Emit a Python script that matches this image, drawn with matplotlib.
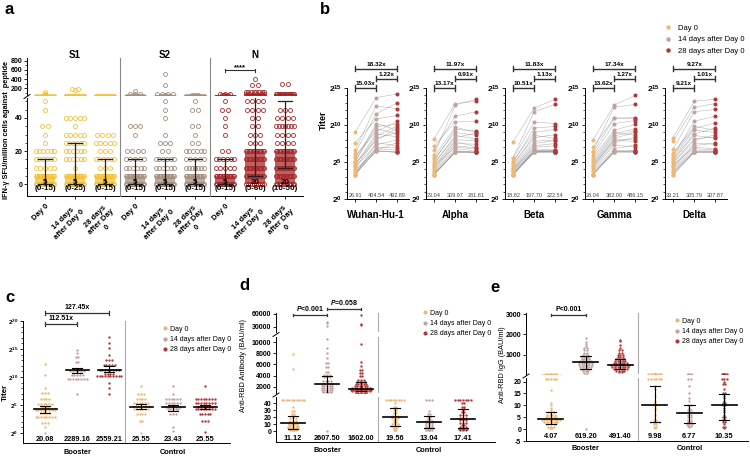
import numpy as np
import matplotlib
matplotlib.use('Agg')
import matplotlib.pyplot as plt
import matplotlib.transforms as mtransforms
from matplotlib.lines import Line2D

plt.rcParams['font.family'] = ['Liberation Sans', 'DejaVu Sans']
plt.rcParams['mathtext.fontset'] = 'custom'
plt.rcParams['mathtext.rm'] = 'Liberation Sans'
plt.rcParams['mathtext.it'] = 'Liberation Sans:italic:bold'
plt.rcParams['mathtext.bf'] = 'Liberation Sans:bold'
plt.rcParams['axes.linewidth'] = 0.7

# ---------------- data ----------------
time_labels = ['Day 0', '14 days after Day 0', '28 days after Day 0']

# panel a: IFN-g SFU, (value, count) rows per group
a_s1 = [
    [(120, 1), (75, 1), (50, 1), (45, 1), (35, 2), (30, 1), (25, 1), (20, 6), (15, 6), (10, 5), (5, 14), (0, 14)],
    [(190, 2), (160, 1), (40, 5), (35, 1), (30, 5), (25, 6), (20, 6), (15, 6), (10, 1), (5, 14), (0, 14)],
    [(30, 4), (25, 5), (20, 3), (15, 6), (10, 3), (5, 14), (0, 14)],
]
a_s2 = [
    [(150, 1), (65, 3), (35, 3), (30, 1), (20, 4), (15, 5), (10, 6), (5, 14), (0, 14)],
    [(500, 1), (260, 1), (65, 4), (50, 1), (45, 1), (40, 1), (30, 1), (25, 3), (20, 2), (15, 6), (10, 6), (5, 14), (0, 14)],
    [(50, 1), (45, 2), (35, 2), (30, 1), (25, 2), (20, 6), (15, 5), (10, 7), (5, 14), (0, 14)],
]
a_n = [
    [(70, 3), (50, 1), (45, 2), (40, 1), (35, 1), (30, 1), (20, 2), (15, 6), (10, 5), (5, 14), (0, 14)],
    [(400, 1), (260, 2), (120, 8), (65, 6), (50, 4), (45, 4), (40, 2), (35, 2), (30, 3), (25, 3), (20, 14), (15, 14),
     (10, 14), (5, 14), (0, 10)],
    [(300, 2), (70, 14), (45, 3), (40, 4), (35, 7), (30, 4), (25, 4), (20, 14), (15, 14), (10, 14), (5, 14), (0, 14)],
]
a_medians = [5, 5, 5, 5, 5, 5, 5, 20, 20]
a_q1 = [0, 0, 0, 0, 0, 0, 0, 5, 10]
a_q3 = [15, 25, 15, 15, 15, 15, 15, 60, 50]
a_med_labels = ['5\n(0-15)', '5\n(0-25)', '5\n(0-15)', '5\n(0-15)', '5\n(0-15)', '5\n(0-15)',
                '5\n(0-15)', '20\n(5-60)', '20\n(10-50)']
a_ticklabels = ['Day 0', '14 days\nafter Day 0', '28 days\nafter Day\n0'] * 3
a_peptides = ['S1', 'S2', 'N']

# panel b: log2 titers per subject (Day 0, 14 d, 28 d)
b_names = ['Wuhan-Hu-1', 'Alpha', 'Beta', 'Gamma', 'Delta']
b_d0 = [
    [3.3, 4.1, 3.3, 5.5, 3.9, 4.6, 6.2, 3.3, 4.8, 5.0, 3.5, 9.0, 4.3, 5.8, 3.7, 6.6, 4.5, 3.3, 7.6, 5.2],
    [3.3, 3.8, 4.4, 3.3, 5.1, 4.0, 6.0, 3.5, 4.7, 8.1, 3.3, 5.4, 4.2, 3.6, 6.6, 4.9, 3.3, 5.7, 4.5, 7.2],
    [3.3, 3.6, 4.0, 3.3, 4.4, 5.2, 3.8, 4.7, 3.3, 7.7, 4.1, 3.5, 5.5, 4.2, 3.3, 4.9, 3.9, 5.6, 3.4, 4.6],
    [3.3, 4.2, 5.0, 3.6, 6.3, 4.5, 3.3, 5.6, 8.0, 4.0, 3.8, 6.5, 4.8, 3.4, 5.3, 7.0, 4.4, 3.3, 5.9, 4.6],
    [3.5, 4.3, 5.2, 3.3, 6.7, 4.8, 5.6, 3.9, 8.3, 4.6, 5.0, 6.2, 3.3, 5.4, 7.8, 4.1, 6.0, 3.7, 5.8, 4.4],
]
b_d14 = [
    [6.5, 8.2, 7.0, 9.8, 6.6, 8.8, 11.5, 6.5, 7.9, 10.2, 6.5, 13.7, 7.3, 9.1, 6.8, 12.6, 8.5, 7.6, 10.8, 9.5],
    [6.4, 7.2, 8.0, 6.3, 9.4, 7.5, 12.7, 6.5, 8.6, 12.9, 6.3, 9.0, 7.8, 6.8, 11.2, 8.3, 6.4, 9.7, 7.0, 10.4],
    [6.4, 6.5, 7.2, 6.3, 7.8, 9.0, 6.6, 8.3, 6.4, 12.3, 7.0, 6.5, 10.4, 7.5, 6.3, 9.6, 6.8, 11.8, 6.4, 8.6],
    [6.4, 7.6, 8.8, 6.5, 10.9, 8.0, 6.3, 9.3, 12.7, 7.3, 6.8, 12.4, 8.5, 6.4, 9.0, 11.0, 7.9, 6.5, 10.2, 8.2],
    [6.4, 7.2, 8.6, 6.3, 11.8, 7.9, 9.3, 6.5, 13.2, 7.0, 8.1, 9.8, 6.3, 8.8, 12.4, 6.8, 9.5, 6.4, 10.5, 7.5],
]
b_d28 = [
    [6.3, 9.0, 6.9, 10.1, 7.6, 8.4, 13.0, 6.3, 9.6, 9.3, 6.4, 14.2, 8.0, 10.5, 6.6, 12.2, 9.9, 7.2, 11.3, 8.8],
    [6.3, 6.9, 7.9, 6.3, 9.2, 7.4, 13.5, 6.3, 8.1, 13.2, 6.3, 8.6, 7.0, 6.5, 11.8, 8.9, 6.4, 9.0, 6.8, 10.5],
    [6.4, 6.6, 7.5, 6.3, 8.0, 9.4, 6.5, 8.7, 6.4, 13.5, 7.2, 6.3, 10.2, 7.9, 6.4, 9.8, 6.6, 12.8, 6.5, 8.2],
    [6.3, 8.4, 9.5, 6.6, 11.0, 8.1, 6.4, 10.1, 14.0, 7.0, 7.3, 12.8, 9.2, 6.5, 8.6, 10.8, 7.8, 6.4, 10.6, 9.0],
    [6.4, 7.6, 8.2, 6.3, 12.1, 8.7, 9.0, 6.5, 13.5, 6.8, 8.4, 9.3, 6.3, 9.6, 12.9, 6.6, 10.3, 6.4, 11.2, 7.4],
]
b_gm = [['26.91', '404.54', '492.89'], ['23.04', '309.97', '281.81'], ['18.82', '197.70', '222.54'],
        ['28.04', '382.00', '486.15'], ['33.21', '305.79', '307.87']]
b_folds = [('15.03x', '1.22x', '18.32x'), ('13.17x', '0.91x', '11.97x'), ('10.51x', '1.13x', '11.83x'),
           ('13.62x', '1.27x', '17.34x'), ('9.21x', '1.01x', '9.27x')]

# panel c: log2 titers, (value, count)
c_groups = [
    [(12.4, 1), (10.4, 1), (8.0, 1), (7.1, 3), (6.0, 4), (5.1, 6), (4.6, 3), (4.1, 8), (3.6, 4), (2.9, 8), (1.8, 3), (1.1, 1), (0.0, 1)],
    [(14.8, 1), (14.2, 1), (13.6, 2), (12.6, 2), (11.5, 4), (11.0, 6), (10.4, 5), (9.6, 8), (7.0, 1)],
    [(17.2, 1), (16.0, 1), (15.1, 1), (13.9, 1), (13.0, 3), (12.1, 5), (11.3, 8), (10.6, 4), (10.1, 10), (9.0, 1), (8.0, 1), (7.0, 1)],
    [(8.4, 1), (7.0, 3), (6.0, 4), (5.3, 6), (4.8, 7), (4.2, 6), (3.4, 4), (2.2, 2), (0.0, 1)],
    [(8.4, 1), (7.0, 1), (6.0, 6), (5.3, 6), (4.6, 6), (4.2, 5), (3.4, 3), (1.1, 1), (0.4, 1)],
    [(8.4, 1), (6.0, 8), (5.3, 8), (4.7, 6), (4.2, 8), (3.4, 5), (2.2, 3), (0.1, 1)],
]
c_gm = [4.33, 11.16, 11.32, 4.68, 4.55, 4.68]
c_lo = [3.6, 10.7, 10.8, 4.3, 4.0, 4.3]
c_hi = [4.9, 11.6, 11.9, 5.1, 5.0, 5.0]
c_gm_labels = ['20.08', '2289.16', '2559.21', '25.55', '23.43', '25.55']

# panel d: anti-RBD antibody BAU/ml, (value, count)
d_groups = [
    [(7800, 1), (5200, 1), (45, 10), (35, 1), (28, 2), (24, 2), (21, 2), (18, 3), (15, 3), (12, 4), (10, 4), (8, 4),
     (6, 5), (4, 5), (3, 4), (2, 3), (1, 2)],
    [(42000, 1), (40000, 1), (31000, 1), (10500, 1), (9000, 1), (8000, 1), (7200, 1), (6300, 2), (5600, 2), (4700, 2),
     (4200, 3), (3700, 3), (3000, 4), (2600, 5), (2200, 5), (1800, 5), (1400, 5), (1100, 4), (0, 1)],
    [(58000, 1), (36000, 1), (34000, 1), (9700, 1), (6400, 1), (5800, 1), (5000, 2), (4400, 2), (3900, 2), (3300, 3),
     (2900, 4), (2500, 5), (2100, 6), (1800, 8), (1500, 9), (1200, 8), (950, 5)],
    [(45, 8), (40, 1), (35, 2), (30, 2), (26, 2), (22, 3), (19, 3), (16, 2), (13, 2), (10, 3), (7, 3), (4, 2), (2, 2), (1, 1)],
    [(45, 3), (28, 1), (25, 2), (20, 2), (17, 2), (14, 3), (12, 3), (9, 3), (6, 3), (4, 4), (2, 3), (1, 2)],
    [(45, 7), (40, 2), (35, 2), (31, 2), (27, 2), (23, 3), (19, 3), (16, 3), (12, 3), (9, 2), (6, 3), (3, 4), (1, 3)],
]
d_med = [11.12, 2607.5, 1602.0, 19.56, 13.04, 17.41]
d_lo = [3, 1000, 1200, 7, 5, 4]
d_hi = [22, 4000, 2900, 33, 21, 31]
d_med_labels = ['11.12', '2607.50', '1602.00', '19.56', '13.04', '17.41']

# panel e: anti-RBD IgG BAU/ml, (value, count)
e_groups = [
    [(21, 5), (16.5, 1), (11, 1), (10, 1), (9, 1), (8, 1), (7, 3), (6, 4), (5, 5), (4, 8), (3, 6), (2, 5), (1, 3), (0.5, 2)],
    [(1800, 1), (1600, 1), (1500, 1), (1400, 1), (1300, 2), (1200, 2), (1100, 2), (1000, 3), (900, 4), (800, 4),
     (700, 5), (600, 6), (500, 6), (400, 5), (300, 4), (200, 3), (100, 2), (0, 1)],
    [(1700, 1), (1650, 1), (1450, 1), (1300, 1), (1200, 2), (1100, 2), (1000, 3), (900, 3), (800, 4), (700, 5),
     (600, 6), (500, 8), (400, 7), (300, 6), (200, 4), (120, 2)],
    [(21, 6), (18, 1), (17, 1), (14, 1), (12, 1), (11, 1), (10, 2), (9, 1), (8, 1), (6, 1), (4, 2), (3, 4), (2, 2),
     (1, 2), (0.5, 1)],
    [(21, 2), (18, 1), (15, 1), (13, 1), (12, 1), (10, 2), (9, 1), (8, 2), (7, 1), (6, 2), (5, 2), (4, 2), (3, 2),
     (2, 3), (1.5, 2), (1, 1)],
    [(21, 3), (20, 1), (19, 2), (17, 1), (15, 2), (14, 1), (13, 1), (12, 1), (11, 2), (10, 2), (9, 1), (8, 1), (7, 1),
     (6, 1), (5, 2), (4, 2), (3, 2), (2, 1), (1, 2), (0.5, 1)],
]
e_med = [4.07, 619.2, 491.4, 9.98, 6.77, 10.35]
e_lo = [2, 300, 280, 3, 2.5, 4]
e_hi = [7, 950, 800, 18, 10, 14.8]
e_med_labels = ['4.07', '619.20', '491.40', '9.98', '6.77', '10.35']

# ---------------- helpers ----------------
W, H = 750, 457
fig = plt.figure(figsize=(7.5, 4.57), dpi=100)

a_colors = ['#F4C138', '#A5907F', '#A82A2C']
t_colors = ['#EDB877', '#C0A3A0', '#B0383A']


def fy(y):
    return 1 - y / H


def px_ax(x0, y0, x1, y1):
    ax = fig.add_axes([x0 / W, 1 - y1 / H, (x1 - x0) / W, (y1 - y0) / H])
    ax.patch.set_alpha(0)
    for s in ['top', 'right']:
        ax.spines[s].set_visible(False)
    ax.tick_params(labelsize=5, length=2.5, width=0.6, pad=1)
    ax.tick_params(which='minor', length=1.5, width=0.5)
    return ax


def set_yt(ax, ticks, labels, fs=5):
    ax.set_yticks(ticks)
    ax.set_yticklabels(labels, fontsize=fs, fontweight='bold')


def swarm(levels, dx, maxw):
    xs, ys = [], []
    for v, n in levels:
        w = min((n - 1) * dx, maxw)
        offs = np.linspace(-w / 2, w / 2, n) if n > 1 else np.array([0.0])
        xs.extend(offs)
        ys.extend([v] * n)
    return np.array(xs), np.array(ys)


def bracket(ax, x0, x1, y, text, fs, tick, color='#333333', lw=1.0):
    ax.plot([x0, x1], [y, y], color=color, lw=lw, clip_on=False, solid_capstyle='butt')
    ax.plot([x0, x0], [y - tick, y + tick], color=color, lw=lw, clip_on=False)
    ax.plot([x1, x1], [y - tick, y + tick], color=color, lw=lw, clip_on=False)
    ax.annotate(text, ((x0 + x1) / 2, y), xytext=(0, 1.2), textcoords='offset points', ha='center',
                va='bottom', fontsize=fs, fontweight='bold', annotation_clip=False)


def med_bar(ax, x, m, lo, hi, hw, cw, lw=1.0):
    ax.plot([x - hw, x + hw], [m, m], color='k', lw=lw + 0.2, zorder=5)
    ax.plot([x, x], [lo, hi], color='k', lw=lw * 0.8, zorder=5)
    ax.plot([x - cw, x + cw], [lo, lo], color='k', lw=lw * 0.8, zorder=5)
    ax.plot([x - cw, x + cw], [hi, hi], color='k', lw=lw * 0.8, zorder=5)


def legend_at(xm, ym, fs, ms, pad, spacing):
    handles = [Line2D([], [], ls='none', marker='o', ms=ms, color=c) for c in t_colors]
    fs_px = fs / 72 * 100
    fig.legend(handles, time_labels, loc='upper left',
               bbox_to_anchor=((xm - 0.4 * fs_px) / W, fy(ym - 0.6 * fs_px)), frameon=False, fontsize=fs,
               handlelength=0.8, handletextpad=pad, labelspacing=spacing, borderpad=0, borderaxespad=0)


def break_mark(x, y):
    fig.add_artist(Line2D([(x - 3) / W, (x + 3) / W], [fy(y + 2), fy(y - 2)], color='k', lw=0.7))


def letter(s, x, y):
    fig.text(x / W, fy(y), s, fontsize=12, fontweight='bold', ha='center', va='center')


# ---------------- panel a ----------------
letter('a', 9, 10)
ax_up = px_ax(27, 58, 303, 95)
ax_lo = px_ax(27, 98, 303, 196)
ax_up.spines['bottom'].set_visible(False)
for ax in (ax_up, ax_lo):
    ax.set_xlim(-0.6, 8.6)
ax_up.set_ylim(52, 860)
ax_lo.set_ylim(-7, 52)
ax_up.set_xticks([])
set_yt(ax_up, [200, 400, 600, 800], ['200', '400', '600', '800'])
ax_up.set_yticks(np.arange(100, 900, 100), minor=True)
set_yt(ax_lo, [0, 20, 40], ['0', '20', '40'])
ax_lo.set_yticks(np.arange(0, 55, 5), minor=True)
ax_lo.set_xticks(range(9))
ax_lo.set_xticklabels(a_ticklabels, rotation=45, ha='right', va='top', rotation_mode='anchor',
                      fontsize=5.5, fontweight='bold', multialignment='center')
ax_lo.tick_params(axis='x', length=2.5, pad=2)

a_groups = a_s1 + a_s2 + a_n
for i, lv in enumerate(a_groups):
    col = a_colors[i // 3]
    ax_lo.bar(i, a_medians[i], width=0.68, color=col, alpha=0.75, lw=0, zorder=1)
    xs, ys = swarm(lv, 0.17, 0.62)
    for ax in (ax_up, ax_lo):
        ax.plot(i + xs, ys, 'o', ms=2.9, mfc='none', mec=col, mew=0.6, zorder=2)
        ax.plot([i, i], [a_q1[i], a_q3[i]], color='#222222', lw=0.9, zorder=4)
        for yv in (a_q1[i], a_q3[i]):
            ax.plot([i - 0.22, i + 0.22], [yv, yv], color='#222222', lw=0.9, zorder=4)
    ax_lo.text(i, -0.5, a_med_labels[i], ha='center', va='center', fontsize=5.8, fontweight='bold',
               linespacing=0.85, zorder=6)

tr_a = mtransforms.blended_transform_factory(ax_lo.transData, fig.transFigure)
for xv in (2.5, 5.5):
    fig.add_artist(Line2D([xv, xv], [fy(58), fy(196)], transform=tr_a, color='#888888', lw=0.8))
for k, name in enumerate(a_peptides):
    fig.text(3 * k + 1, fy(55), name, transform=tr_a, ha='center', va='center', fontsize=7, fontweight='bold')
bracket(ax_up, 6, 7, 590, '', 5, 30, lw=0.8)
ax_up.annotate('****', (6.5, 590), xytext=(0, -0.5), textcoords='offset points', ha='center', va='bottom',
               fontsize=5.5, fontweight='bold', annotation_clip=False)
break_mark(27, 96.5)
fig.text(7 / W, fy(130), 'IFN-\u03b3 SFU/million cells against  peptide', rotation=90, ha='center',
         va='center', fontsize=5.3, fontweight='bold')

# ---------------- panel b ----------------
letter('b', 325, 9)
b_x0 = [347, 426, 505, 585, 665]
for k, name in enumerate(b_names):
    ax = px_ax(b_x0[k], 88, b_x0[k] + 62, 199)
    ax.set_xlim(-0.38, 2.55)
    ax.set_ylim(0, 15)
    ax.set_xticks([0, 1, 2])
    ax.set_xticklabels([])
    ax.set_yticks([0, 5, 10, 15])
    ax.set_yticklabels([r'$\mathbf{2^{%d}}$' % v for v in (0, 5, 10, 15)], fontsize=6)
    ax.set_yticks(range(16), minor=True)
    for j in range(len(b_d0[k])):
        ax.plot([0, 1, 2], [b_d0[k][j], b_d14[k][j], b_d28[k][j]], color='#8c8c8c', lw=0.35, alpha=0.7, zorder=1)
    for t, vals in enumerate((b_d0[k], b_d14[k], b_d28[k])):
        ax.plot(np.full(len(vals), t), vals, 'o', ms=1.9, color=t_colors[t], zorder=2, clip_on=False)
        ax.text(t, 0.45, b_gm[k][t], ha='center', va='center', fontsize=4, color='#444444')
    f1, f2, f3 = b_folds[k]
    bracket(ax, 0, 1, 15.0, f1, 4.6, 0.35)
    bracket(ax, 1, 2, 16.25, f2, 4.6, 0.35)
    bracket(ax, 0, 2, 17.6, f3, 4.6, 0.35)
    trb = mtransforms.blended_transform_factory(ax.transData, fig.transFigure)
    fig.text(1, fy(215), name, transform=trb, ha='center', va='center', fontsize=7, fontweight='bold')
fig.text(323 / W, fy(120), 'Titer', rotation=90, ha='center', va='center', fontsize=6.5, fontweight='bold')
legend_at(668, 29, 5.5, 2.2, 0.9, 0.55)

# ---------------- panel c ----------------
letter('c', 10, 298)
ax_c = px_ax(23, 321, 230, 443)
ax_c.set_xlim(-0.69, 5.78)
ax_c.set_ylim(-1.8, 20)
ax_c.set_xticks([])
ax_c.set_yticks([0, 5, 10, 15, 20])
ax_c.set_yticklabels([r'$\mathbf{2^{%d}}$' % v for v in (0, 5, 10, 15, 20)], fontsize=4.6)
ax_c.set_yticks(range(21), minor=True)
for i, lv in enumerate(c_groups):
    xs, ys = swarm(lv, 0.085, 0.9)
    ax_c.plot(i + xs, ys, 'o', ms=1.7, color=t_colors[i % 3], mew=0, zorder=2, clip_on=False)
    med_bar(ax_c, i, c_gm[i], c_lo[i], c_hi[i], 0.36, 0.15)
ax_c.axvline(2.5, color='#aaaaaa', lw=0.8)
tr_c = mtransforms.blended_transform_factory(ax_c.transData, fig.transFigure)
for i, s in enumerate(c_gm_labels):
    fig.text(i, fy(439.5), s, transform=tr_c, ha='center', va='center', fontsize=5.3, fontweight='bold')
fig.text(1, fy(453), 'Booster', transform=tr_c, ha='center', va='center', fontsize=5.3, fontweight='bold')
fig.text(4, fy(453), 'Control', transform=tr_c, ha='center', va='center', fontsize=5.3, fontweight='bold')
bracket(ax_c, 0, 1, 19.45, '112.51x', 5, 0.35, lw=0.9)
bracket(ax_c, 0, 2, 21.4, '127.45x', 5, 0.35, lw=0.9)
fig.text(5 / W, fy(392), 'Titer', rotation=90, ha='center', va='center', fontsize=5.8, fontweight='bold')
legend_at(165, 330, 5, 2.0, 0.25, 0.45)

# ---------------- panel d ----------------
letter('d', 244, 285)
d_top = px_ax(276, 313, 495, 332)
d_mid = px_ax(276, 337, 495, 393)
d_bot = px_ax(276, 397, 495, 442)
d_top.set_ylim(18000, 62000)
d_mid.set_ylim(930, 10890)
d_bot.set_ylim(-15.7, 48.6)
for ax in (d_top, d_mid, d_bot):
    ax.set_xlim(-0.5, 5.94)
    ax.set_xticks([])
    ax.axvline(2.5, color='#aaaaaa', lw=0.8)
for ax in (d_top, d_mid):
    ax.spines['bottom'].set_visible(False)
set_yt(d_top, [30000, 60000], ['30000', '60000'])
set_yt(d_mid, [2000, 4000, 6000, 8000, 10000], ['2000', '4000', '6000', '8000', '10000'])
set_yt(d_bot, [0, 10, 20, 30, 40], ['0', '10', '20', '30', '40'])
for i, lv in enumerate(d_groups):
    xs, ys = swarm(lv, 0.075, 0.8)
    for ax in (d_top, d_mid, d_bot):
        ax.plot(i + xs, ys, 'o', ms=1.7, color=t_colors[i % 3], mew=0, zorder=2)
        med_bar(ax, i, d_med[i], d_lo[i], d_hi[i], 0.36, 0.15)
tr_d = mtransforms.blended_transform_factory(d_bot.transData, fig.transFigure)
for i, s in enumerate(d_med_labels):
    fig.text(i, fy(438), s, transform=tr_d, ha='center', va='center', fontsize=5.3, fontweight='bold')
fig.text(1, fy(450), 'Booster', transform=tr_d, ha='center', va='center', fontsize=5.3, fontweight='bold')
fig.text(4, fy(450), 'Control', transform=tr_d, ha='center', va='center', fontsize=5.3, fontweight='bold')
bracket(d_top, 0, 1, 57400, '$P$<0.001', 5, 1500, lw=0.9)
bracket(d_top, 1, 2, 71300, '$P$=0.058', 5, 1500, lw=0.9)
break_mark(276, 334.5)
break_mark(276, 395)
fig.text(244 / W, fy(366), 'Anti-RBD Antibody (BAU/ml)', rotation=90, ha='center', va='center', fontsize=5.3)
legend_at(425, 314, 5, 2.0, 0.25, 0.45)

# ---------------- panel e ----------------
letter('e', 495, 287)
e_top = px_ax(526, 313, 748, 374)
e_bot = px_ax(526, 378, 748, 441)
e_top.set_ylim(40, 3050)
e_bot.set_ylim(-5, 21.5)
for ax in (e_top, e_bot):
    ax.set_xlim(-0.72, 5.69)
    ax.set_xticks([])
    ax.axvline(2.5, color='#aaaaaa', lw=0.8)
e_top.spines['bottom'].set_visible(False)
set_yt(e_top, [1000, 2000, 3000], ['1000', '2000', '3000'])
set_yt(e_bot, [-5, 0, 5, 10, 15, 20], ['-5', '0', '5', '10', '15', '20'])
for i, lv in enumerate(e_groups):
    xs, ys = swarm(lv, 0.075, 0.8)
    for ax in (e_top, e_bot):
        ax.plot(i + xs, ys, 'o', ms=1.7, color=t_colors[i % 3], mew=0, zorder=2)
        med_bar(ax, i, e_med[i], e_lo[i], e_hi[i], 0.36, 0.15)
tr_e = mtransforms.blended_transform_factory(e_bot.transData, fig.transFigure)
for i, s in enumerate(e_med_labels):
    fig.text(i, fy(437), s, transform=tr_e, ha='center', va='center', fontsize=5.3, fontweight='bold')
fig.text(1, fy(448), 'Booster', transform=tr_e, ha='center', va='center', fontsize=5.3, fontweight='bold')
fig.text(4, fy(448), 'Control', transform=tr_e, ha='center', va='center', fontsize=5.3, fontweight='bold')
bracket(e_top, 0, 1, 2950, 'P<0.001', 5, 60, lw=0.9)
break_mark(526, 376)
fig.text(502 / W, fy(365), 'Anti-RBD IgG (BAU/ml)', rotation=90, ha='center', va='center', fontsize=5.3)
legend_at(677, 322, 5, 2.0, 0.25, 0.45)

fig.savefig('out.png', dpi=100)
